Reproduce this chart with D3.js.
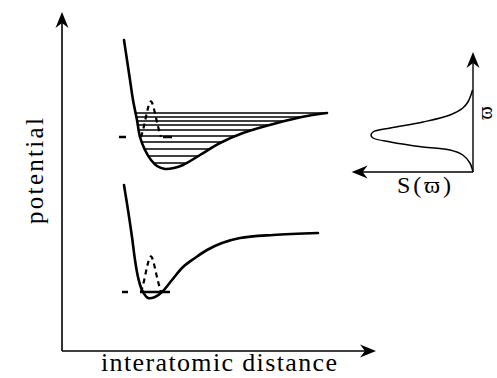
<!DOCTYPE html>
<html>
<head>
<meta charset="utf-8">
<script src="https://cdn.jsdelivr.net/npm/d3@7"></script>
<style>
  html, body { margin: 0; padding: 0; background: #fff; }
  svg { display: block; }
  text { font-family: "Liberation Serif", "DejaVu Serif", serif; fill: #000; }
</style>
</head>
<body>
<svg id="chart" width="497" height="378"></svg>
<script>
// Potential-energy curves: [interatomic distance, potential] in diagram units
const upperCurve = [
  [62, 311], [65, 291], [68, 271], [71, 251], [75, 231], [78, 214], [83, 201],
  [89, 191], [95, 185], [103, 182], [112, 183], [121, 186], [138, 196],
  [158, 208], [181, 218], [215, 228], [245, 235], [265, 238]
];
const lowerCurve = [
  [62, 166], [66, 141], [70, 114], [73, 91], [76, 74], [80, 61], [86, 53],
  [93, 54], [100, 59], [110, 71], [121, 84], [133, 93], [145, 101],
  [160, 108], [178, 113], [211, 116], [256, 118]
];
// Vibrational levels of the upper well (potential values)
const upperLevels = [238, 234, 230, 226, 221, 215, 209, 202, 195, 188];
// Ground vibrational level of each well and its start/end distance
const groundLevels = [
  { name: "upper", v: 214, x0: 57, x1: 110, dash: "7,37,9" },
  { name: "lower", v: 59, x0: 60, x1: 108, dash: "6,12,30" }
];
// Ground-state wavefunction profile: [distance, height above its level]
const groundWave = [
  [79, 0], [82, 10], [85, 26], [88, 36], [90, 36], [93, 24], [96, 10], [99, 0]
];
// Where the wavefunction is drawn (potential of its baseline)
const waveBaselines = [214, 59];

// Line-shape function S(w): [w, S]
const spectrum = [
  [0, 0], [2, 0.005], [9, 0.03], [17, 0.10], [22, 0.225], [25, 0.49],
  [30, 0.81], [34, 0.98], [37, 1.0], [40, 0.98], [44, 0.81], [50, 0.49],
  [57, 0.225], [64, 0.10], [70, 0.05], [77, 0.02], [82, 0.005]
];

const svg = d3.select("#chart");

const x = d3.scaleLinear().domain([0, 314]).range([62, 376]);
const y = d3.scaleLinear().domain([0, 339]).range([351, 12]);

const sx = d3.scaleLinear().domain([0, 1]).range([473, 371]);
const sy = d3.scaleLinear().domain([0, 120]).range([172, 52]);

const line = d3.line().x(d => x(d[0])).y(d => y(d[1])).curve(d3.curveCatmullRom.alpha(0.5));

function arrow(tipX, tipY, angle) {
  // barbed arrowhead pointing in direction angle (degrees, 0 = right)
  const p = d3.path();
  p.moveTo(0, 0);
  p.lineTo(-16, -6.5);
  p.lineTo(-11, 0);
  p.lineTo(-16, 6.5);
  p.closePath();
  svg.append("path")
    .attr("d", p.toString())
    .attr("transform", `translate(${tipX},${tipY}) rotate(${angle})`)
    .attr("fill", "#000");
}

// Main axes
svg.append("line")
  .attr("x1", x(0)).attr("y1", y(0)).attr("x2", x(0)).attr("y2", y(339) + 4)
  .attr("stroke", "#000").attr("stroke-width", 1.6);
svg.append("line")
  .attr("x1", x(0)).attr("y1", y(0)).attr("x2", x(314) - 4).attr("y2", y(0))
  .attr("stroke", "#000").attr("stroke-width", 1.6);
arrow(x(0), y(339), -90);
arrow(x(314), y(0), 0);

// Interpolate a distance where a branch of the curve reaches the given potential
function crossing(branch, v) {
  for (let i = 0; i < branch.length - 1; i++) {
    const a = branch[i], b = branch[i + 1];
    const lo = Math.min(a[1], b[1]), hi = Math.max(a[1], b[1]);
    if (v >= lo && v <= hi && a[1] !== b[1]) {
      const t = (v - a[1]) / (b[1] - a[1]);
      return a[0] + t * (b[0] - a[0]);
    }
  }
  return branch[branch.length - 1][0];
}
let minIdx = 0;
upperCurve.forEach((d, i) => { if (d[1] < upperCurve[minIdx][1]) minIdx = i; });
const leftBranch = upperCurve.slice(0, minIdx + 1);
const rightBranch = upperCurve.slice(minIdx);

// Vibrational levels
svg.append("g").selectAll("line")
  .data(upperLevels)
  .join("line")
  .attr("x1", d => x(crossing(leftBranch, d)) - 1)
  .attr("x2", d => x(crossing(rightBranch, d)) + 1)
  .attr("y1", d => y(d))
  .attr("y2", d => y(d))
  .attr("stroke", "#000")
  .attr("stroke-width", 1.4);

// Potential curves
[upperCurve, lowerCurve].forEach(c => {
  svg.append("path")
    .attr("d", line(c))
    .attr("fill", "none")
    .attr("stroke", "#000")
    .attr("stroke-width", 2.6)
    .attr("stroke-linecap", "round");
});

// Ground levels (dashed)
groundLevels.forEach(g => {
  svg.append("line")
    .attr("x1", x(g.x0)).attr("x2", x(g.x1))
    .attr("y1", y(g.v)).attr("y2", y(g.v))
    .attr("stroke", "#000").attr("stroke-width", 2.4)
    .attr("stroke-dasharray", g.dash);
});

// Ground-state wavefunctions (dashed)
const waveLine = d3.line().curve(d3.curveBasis);
waveBaselines.forEach(b => {
  svg.append("path")
    .attr("d", waveLine(groundWave.map(d => [x(d[0]), y(b + d[1])])))
    .attr("fill", "none")
    .attr("stroke", "#000")
    .attr("stroke-width", 2.2)
    .attr("stroke-dasharray", "5,4");
});

// Spectrum axes
svg.append("line")
  .attr("x1", sx(0)).attr("y1", sy(0)).attr("x2", sx(0)).attr("y2", sy(120) + 4)
  .attr("stroke", "#000").attr("stroke-width", 1.4);
svg.append("line")
  .attr("x1", sx(0)).attr("y1", sy(0)).attr("x2", sx(1.19) + 4).attr("y2", sy(0))
  .attr("stroke", "#000").attr("stroke-width", 1.4);
arrow(sx(0), sy(120), -90);
arrow(sx(1.19), sy(0), 180);

// Line shape
svg.append("path")
  .attr("d", d3.line().x(d => sx(d[1])).y(d => sy(d[0])).curve(d3.curveCatmullRom.alpha(0.5))(spectrum))
  .attr("fill", "none")
  .attr("stroke", "#000")
  .attr("stroke-width", 1.5);

// Labels
svg.append("text")
  .attr("transform", `translate(43,171) rotate(-90)`)
  .attr("text-anchor", "middle")
  .attr("font-size", 25)
  .attr("textLength", 106)
  .attr("lengthAdjust", "spacing")
  .text("potential");

svg.append("text")
  .attr("x", 219).attr("y", 371)
  .attr("text-anchor", "middle")
  .attr("font-size", 26)
  .attr("textLength", 236)
  .attr("lengthAdjust", "spacing")
  .text("interatomic distance");

svg.append("text")
  .attr("x", 424).attr("y", 193)
  .attr("text-anchor", "middle")
  .attr("font-size", 24)
  .attr("textLength", 54)
  .attr("lengthAdjust", "spacing")
  .text("S(\u03D6)");

svg.append("text")
  .attr("transform", `translate(492,113) rotate(-90)`)
  .attr("text-anchor", "middle")
  .attr("font-size", 20)
  .text("\u03D6");
</script>
</body>
</html>
